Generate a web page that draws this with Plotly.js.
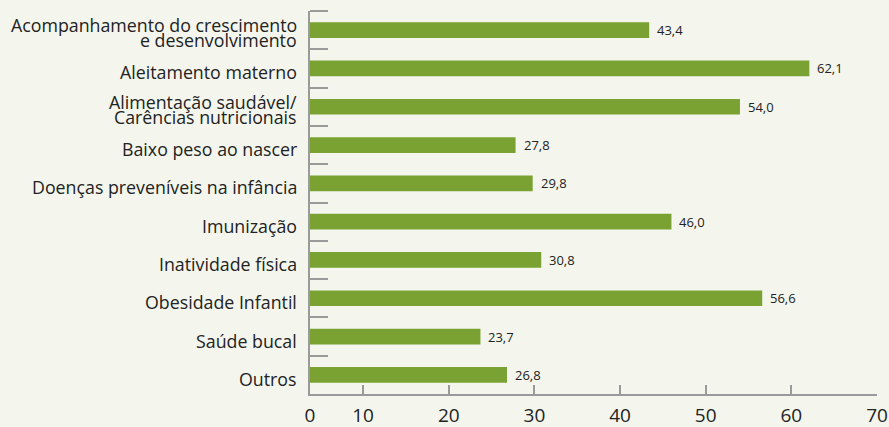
<!DOCTYPE html>
<html>
<head>
<meta charset="utf-8">
<script src="https://cdn.plot.ly/plotly-3.0.1.min.js"></script>
<style>
html,body{margin:0;padding:0;background:#f4f6ee;}
#chart{width:889px;height:427px;}
</style>
</head>
<body>
<div id="chart"></div>
<script>
const categories = [
  "Acompanhamento do crescimento<br>e desenvolvimento",
  "Aleitamento materno",
  "Alimentação saudável/<br>Carências nutricionais",
  "Baixo peso ao nascer",
  "Doenças preveníveis na infância",
  "Imunização",
  "Inatividade física",
  "Obesidade Infantil",
  "Saúde bucal",
  "Outros"
];
const values = [43.4, 62.1, 54.0, 27.8, 29.8, 46.0, 30.8, 56.6, 23.7, 26.8];
const xTickLabels = ["0", "10", "20", "30", "40", "50", "60", "70"];
// the reference's value axis begins a little above zero, where its "0" label sits
const xAxisStart = 3.8;
const xTickVals = [xAxisStart, 10, 20, 30, 40, 50, 60, 70];

const fmt = v => v.toFixed(1).replace('.', ',');
const FONT = 'Open Sans, sans-serif';

const trace = {
  type: 'bar',
  orientation: 'h',
  x: values,
  y: categories,
  marker: {color: '#7aa232'},
  width: 0.41,
  hoverinfo: 'none'
};

const annotations = values.map((v, i) => ({
  x: v, y: categories[i], xref: 'x', yref: 'y',
  text: fmt(v), showarrow: false, xanchor: 'left', xshift: 6,
  font: {family: FONT, size: 13, color: '#222'}
}));

categories.forEach(cat => {
  const lines = cat.split('<br>');
  const n = lines.length;
  lines.forEach((ln, j) => {
    annotations.push({
      x: 0, xref: 'paper', y: cat, yref: 'y',
      text: ln, showarrow: false, xanchor: 'right', xshift: -11,
      yanchor: 'middle',
      yshift: (n === 1 ? -4 : -2.5) + ((n - 1) / 2 - j) * 15.5,
      font: {family: FONT, size: 17.8, color: '#222'}
    });
  });
});

const layout = {
  width: 889, height: 427,
  margin: {l: 310, r: 12, t: 11, b: 33},
  paper_bgcolor: '#f4f6ee',
  plot_bgcolor: '#f4f6ee',
  showlegend: false,
  font: {family: FONT, color: '#222'},
  xaxis: {
    range: [xAxisStart, 70],
    tickvals: xTickVals,
    ticktext: xTickLabels,
    showgrid: false, zeroline: false,
    showline: true, linecolor: '#9a9a9a', linewidth: 2,
    ticks: 'inside', ticklen: 9, tickwidth: 2, tickcolor: '#9a9a9a',
    tickfont: {size: 19, color: '#222'},
    ticklabelstandoff: 3,
    fixedrange: true
  },
  yaxis: {
    type: 'category',
    range: [9.5, -0.5],
    showgrid: false, zeroline: false,
    showline: true, linecolor: '#9a9a9a', linewidth: 2,
    ticks: 'inside', tickson: 'boundaries', ticklen: 18, tickwidth: 2, tickcolor: '#9a9a9a',
    showticklabels: false,
    fixedrange: true
  },
  shapes: [{
    type: 'line', xref: 'paper', xsizemode: 'pixel', xanchor: 0, x0: 0, x1: 18,
    yref: 'paper', y0: 1, y1: 1,
    line: {color: '#9a9a9a', width: 2}
  }],
  annotations: annotations
};

Plotly.newPlot('chart', [trace], layout, {displayModeBar: false, staticPlot: true});
</script>
</body>
</html>
